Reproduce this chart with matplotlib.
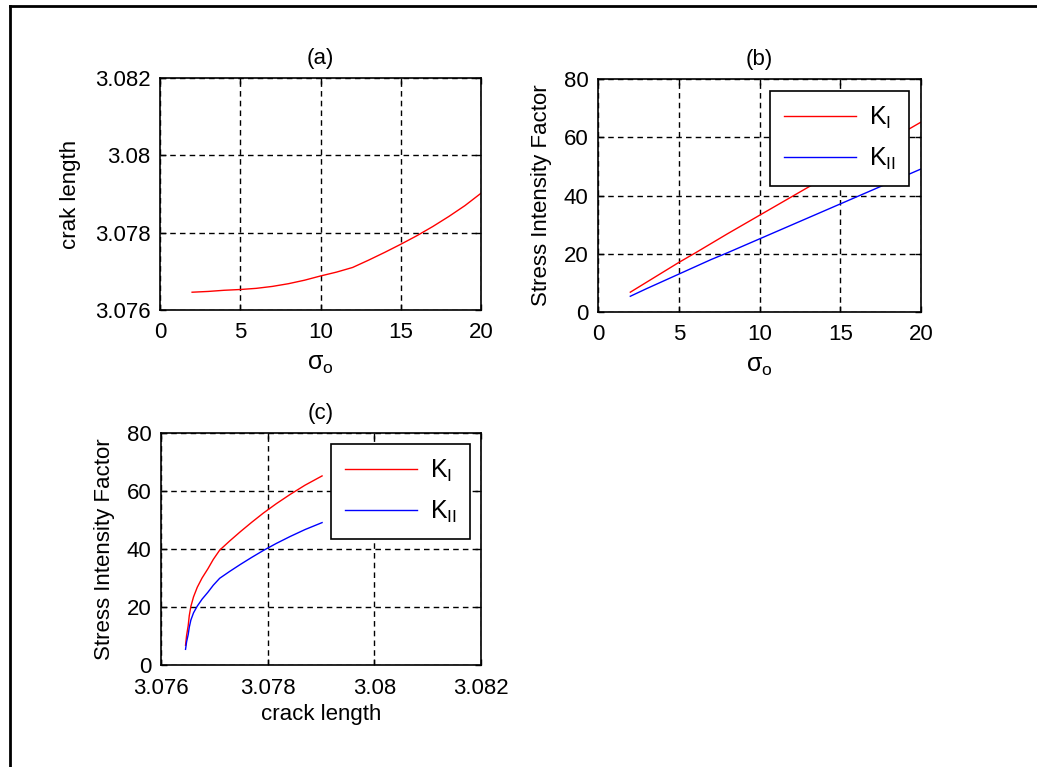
import numpy as np
import matplotlib
matplotlib.use('Agg')
import matplotlib.pyplot as plt
from matplotlib.lines import Line2D

plt.rcParams['font.family'] = ['Liberation Sans', 'DejaVu Sans']
plt.rcParams['font.size'] = 16
plt.rcParams['mathtext.fontset'] = 'custom'
plt.rcParams['mathtext.rm'] = 'Liberation Sans'
plt.rcParams['mathtext.it'] = 'Liberation Sans'

# data
sigma = [2, 3, 4, 5, 6, 7, 8, 9, 10, 11, 12, 13, 14, 15, 16, 17, 18, 19, 20]
crack = [3.07646, 3.07648, 3.07651, 3.07653, 3.07656, 3.07661, 3.07668, 3.07677,
         3.07688, 3.07698, 3.07710, 3.07729, 3.07749, 3.07770, 3.07792, 3.07816,
         3.07842, 3.07870, 3.07902]
K_I = [6.8, 10.2, 13.6, 17.0, 20.2, 23.5, 26.8, 30.0, 33.2, 36.4, 39.6, 42.8,
       46.0, 49.2, 52.4, 55.6, 58.8, 62.0, 65.2]
K_II = [5.4, 8.0, 10.5, 13.0, 15.5, 18.0, 20.3, 22.7, 25.1, 27.5, 29.9, 32.3,
        34.7, 37.1, 39.5, 41.9, 44.3, 46.7, 49.1]

sig_ticks = [0, 5, 10, 15, 20]
len_ticks = [3.076, 3.078, 3.08, 3.082]
len_labels = ['3.076', '3.078', '3.08', '3.082']
K_ticks = [0, 20, 40, 60, 80]

W, H = 1037, 767
fig = plt.figure(figsize=(W/100, H/100), dpi=100)

def style(ax):
    ax.grid(True, color='black', linestyle=(0, (4, 3)), linewidth=1.0)
    ax.tick_params(direction='in', length=4, top=True, right=True, pad=7, width=1)
    ax.tick_params(axis='x', pad=9)
    for s in ax.spines.values():
        s.set_linewidth(1.2)

def leg(ax, x, y):
    l = ax.legend(loc='upper right', bbox_to_anchor=(x, y), borderaxespad=0,
                  fancybox=False, edgecolor='black', framealpha=1,
                  handlelength=2.9, handletextpad=0.5, labelspacing=0.6,
                  borderpad=0.55, fontsize=18)
    l.get_frame().set_linewidth(1.2)

ax1 = fig.add_axes([160/W, 1-310/H, 321/W, 232/H])
ax1.plot(sigma, crack, color='red', lw=1)
ax1.set_xlim(0, 20)
ax1.set_ylim(3.076, 3.082)
ax1.set_xticks(sig_ticks)
ax1.set_yticks(len_ticks)
ax1.set_yticklabels(len_labels)
ax1.set_xlabel(r'$\sigma_o$', labelpad=6, fontsize=18)
ax1.set_ylabel('crak length', labelpad=10)
ax1.set_title('(a)', pad=10, fontsize=16)
style(ax1)

ax2 = fig.add_axes([598/W, 1-312/H, 323/W, 233/H])
ax2.plot(sigma, K_I, color='red', lw=1, label=r'$\mathregular{K_I}$')
ax2.plot(sigma, K_II, color='blue', lw=1, label=r'$\mathregular{K_{II}}$')
ax2.set_xlim(0, 20)
ax2.set_ylim(0, 80)
ax2.set_xticks(sig_ticks)
ax2.set_yticks(K_ticks)
ax2.set_xlabel(r'$\sigma_o$', labelpad=6, fontsize=18)
ax2.set_ylabel('Stress Intensity Factor', labelpad=8)
ax2.set_title('(b)', pad=10, fontsize=16)
style(ax2)
leg(ax2, (909-598)/323, (312-91)/233)

ax3 = fig.add_axes([161/W, 1-665/H, 320/W, 232/H])
ax3.plot(crack, K_I, color='red', lw=1, label=r'$\mathregular{K_I}$')
ax3.plot(crack, K_II, color='blue', lw=1, label=r'$\mathregular{K_{II}}$')
ax3.set_xlim(3.076, 3.082)
ax3.set_ylim(0, 80)
ax3.set_xticks(len_ticks)
ax3.set_xticklabels(len_labels)
ax3.set_yticks(K_ticks)
ax3.set_xlabel('crack length', labelpad=4)
ax3.set_ylabel('Stress Intensity Factor', labelpad=8)
ax3.set_title('(c)', pad=10, fontsize=16)
style(ax3)
leg(ax3, (470-161)/320, (665-444)/232)

# outer frame lines
fig.add_artist(Line2D([10/W, 10/W], [0, 1-6/H], transform=fig.transFigure, color='black', lw=2))
fig.add_artist(Line2D([10/W, 1], [1-6/H, 1-6/H], transform=fig.transFigure, color='black', lw=2))

fig.savefig('out.png', dpi=100)
